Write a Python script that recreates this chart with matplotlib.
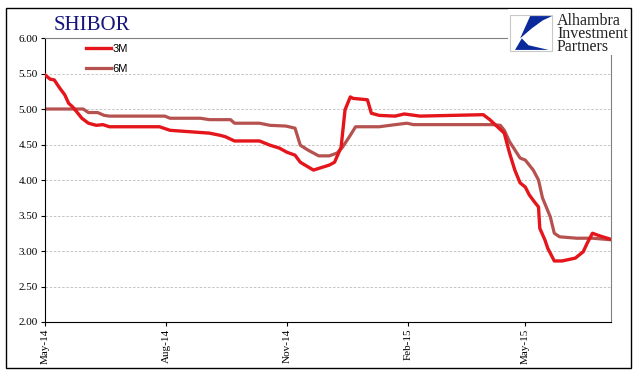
import numpy as np
import pandas as pd
import matplotlib.pyplot as plt
import matplotlib.dates as mdates
from matplotlib.patches import Rectangle, Polygon

# SHIBOR 3M
dates_3m = ['2014-05-01', '2014-05-05', '2014-05-08', '2014-05-12', '2014-05-16', '2014-05-19',
            '2014-05-22', '2014-05-26', '2014-05-29', '2014-06-03', '2014-06-09', '2014-06-14',
            '2014-06-19', '2014-07-27', '2014-08-04', '2014-09-03', '2014-09-11', '2014-09-15',
            '2014-09-22', '2014-10-11', '2014-10-19', '2014-10-26', '2014-11-01', '2014-11-07',
            '2014-11-11', '2014-11-21', '2014-12-03', '2014-12-07', '2014-12-12', '2014-12-15',
            '2014-12-19', '2014-12-21', '2015-01-01', '2015-01-04', '2015-01-10', '2015-01-22',
            '2015-01-29', '2015-02-10', '2015-03-30', '2015-04-04', '2015-04-15', '2015-04-19',
            '2015-04-23', '2015-04-27', '2015-05-01', '2015-05-04', '2015-05-08', '2015-05-11',
            '2015-05-12', '2015-05-16', '2015-05-18', '2015-05-23', '2015-05-29', '2015-06-08',
            '2015-06-14', '2015-06-17', '2015-06-21', '2015-06-27', '2015-07-04']
shibor_3m = [5.48, 5.42, 5.41, 5.30, 5.20, 5.08,
             5.03, 4.94, 4.87, 4.80, 4.77, 4.78,
             4.75, 4.75, 4.70, 4.66, 4.63, 4.61,
             4.55, 4.55, 4.49, 4.45, 4.39, 4.35,
             4.25, 4.14, 4.21, 4.25, 4.46, 4.99,
             5.17, 5.15, 5.13, 4.94, 4.91, 4.90,
             4.93, 4.90, 4.92, 4.85, 4.66, 4.38,
             4.14, 3.96, 3.90, 3.79, 3.69, 3.62,
             3.32, 3.15, 3.04, 2.86, 2.86, 2.90,
             2.99, 3.11, 3.25, 3.21, 3.17]

# SHIBOR 6M
dates_6m = ['2014-05-01', '2014-05-30', '2014-06-03', '2014-06-10', '2014-06-15', '2014-06-19',
            '2014-07-31', '2014-08-04', '2014-08-27', '2014-09-03', '2014-09-19', '2014-09-22',
            '2014-10-11', '2014-10-19', '2014-10-31', '2014-11-07', '2014-11-11', '2014-11-17',
            '2014-11-25', '2014-12-03', '2014-12-09', '2014-12-13', '2014-12-19', '2014-12-23',
            '2015-01-10', '2015-01-18', '2015-01-31', '2015-02-05', '2015-04-06', '2015-04-12',
            '2015-04-15', '2015-04-19', '2015-04-27', '2015-05-01', '2015-05-07', '2015-05-11',
            '2015-05-14', '2015-05-20', '2015-05-23', '2015-05-27', '2015-06-09', '2015-06-21',
            '2015-07-04']
shibor_6m = [5.00, 5.00, 4.95, 4.95, 4.91, 4.90,
             4.90, 4.87, 4.87, 4.85, 4.85, 4.80,
             4.80, 4.77, 4.76, 4.73, 4.49, 4.42,
             4.34, 4.34, 4.38, 4.46, 4.63, 4.75,
             4.75, 4.77, 4.80, 4.78, 4.78, 4.77,
             4.70, 4.54, 4.31, 4.28, 4.14, 4.00,
             3.75, 3.48, 3.25, 3.20, 3.18, 3.18,
             3.16]

tick_dates = ['2014-05-01', '2014-08-01', '2014-11-01', '2015-02-01', '2015-05-01']
y_ticks = [2.0, 2.5, 3.0, 3.5, 4.0, 4.5, 5.0, 5.5, 6.0]

fig = plt.figure(figsize=(6.41, 3.79), dpi=100)
ax = fig.add_axes([0.0702, 0.1504, 0.8828, 0.7493])

ax.plot(pd.to_datetime(dates_3m), shibor_3m, color='#e4151b', lw=2.4, label='3M', zorder=3)
ax.plot(pd.to_datetime(dates_6m), shibor_6m, color='#b5514e', lw=2.3, label='6M', zorder=2)

ax.set_ylim(2, 6)
ax.set_yticks(y_ticks)
ax.yaxis.set_major_formatter(plt.FuncFormatter(lambda v, p: '%.2f' % v))
ax.set_xlim(pd.Timestamp('2014-05-01'), pd.Timestamp('2015-07-05'))
ax.set_xticks(pd.to_datetime(tick_dates))
ax.xaxis.set_major_formatter(mdates.DateFormatter('%b-%y'))

for lbl in ax.get_yticklabels():
    lbl.set_family('Liberation Serif')
    lbl.set_fontsize(8)
for lbl in ax.get_xticklabels():
    lbl.set_family('Liberation Serif')
    lbl.set_fontsize(8)
    lbl.set_rotation(90)

ax.tick_params(axis='both', direction='out', length=3, width=0.8, pad=2)
for y in y_ticks[1:-1]:
    ax.axhline(y, color='#bdbdbd', lw=0.6, ls=(0, (3, 2)), zorder=1)

ax.spines['left'].set_color('black')
ax.spines['bottom'].set_color('black')
ax.spines['top'].set_color('#808080')
ax.spines['right'].set_color('#808080')

leg = ax.legend(loc='upper left', bbox_to_anchor=(0.055, 1.015), frameon=False,
                handlelength=2.2, handletextpad=0.2, labelspacing=0.9,
                prop={'family': 'Liberation Sans', 'size': 8})

fig.text(0.083, 0.922, 'SHIBOR', family='Liberation Serif', fontsize=15, color='#14147a')

# outer border
fig.patches.append(Rectangle((0.010, 0.029), 0.975, 0.950, transform=fig.transFigure,
                             fill=False, edgecolor='black', lw=1.0))

# logo (white backing, box, blue swooshes, name)
fig.patches.append(Rectangle((0.793, 0.855), 0.190, 0.12, transform=fig.transFigure,
                             facecolor='white', edgecolor='none', zorder=5))
bx, by, bw, bh = 510 / 641, 1 - 51 / 379, 42 / 641, 36 / 379
fig.patches.append(Rectangle((bx, by), bw, bh, transform=fig.transFigure,
                             facecolor='white', edgecolor='#c8c8c8', lw=0.8, zorder=6))
upper = [(0.48, 0.97), (1.0, 0.97), (0.78, 0.85), (0.52, 0.63), (0.24, 0.35)]
lower = [(0.12, 0.03), (0.28, 0.35), (0.44, 0.16), (0.92, 0.03)]
for shape in (upper, lower):
    pts = [(bx + u * bw, by + v * bh) for u, v in shape]
    fig.patches.append(Polygon(pts, closed=True, transform=fig.transFigure,
                               facecolor='#0a2a9c', edgecolor='none', zorder=7))
fig.text(557 / 641, 1 - 34 / 379, 'Alhambra\nInvestment\nPartners', family='Liberation Serif',
         fontsize=11.5, color='#222222', va='center', ha='left', linespacing=0.78, zorder=8)

fig.savefig('out.png', dpi=100)
